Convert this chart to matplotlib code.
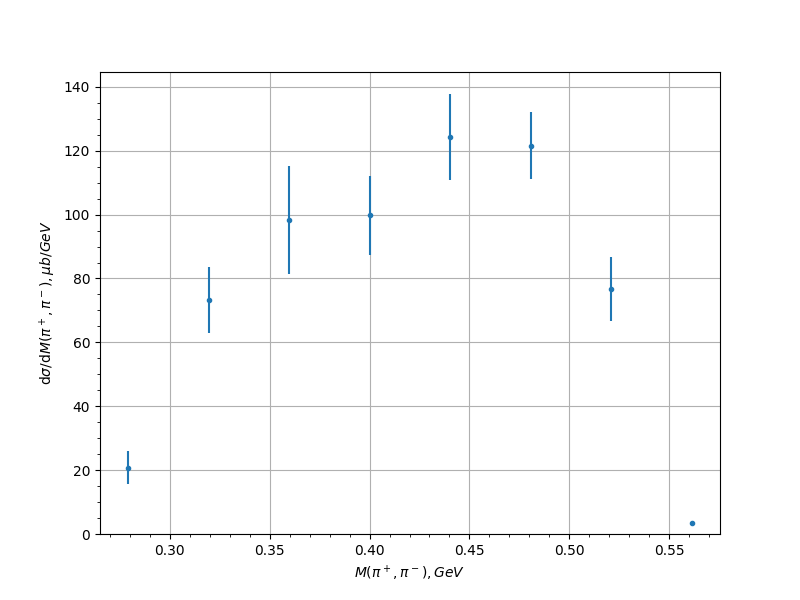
import numpy as np
import matplotlib
matplotlib.use('Agg')
import matplotlib.pyplot as plt

# mass bin centres, GeV
mass = [0.2792, 0.3195, 0.3598, 0.4001, 0.4404, 0.4807, 0.5210, 0.5613]
# cross section, mub/GeV
xsec = [20.7, 73.3, 98.3, 99.8, 124.3, 121.5, 76.7, 3.4]
xsec_err = [5.2, 10.3, 16.8, 12.4, 13.6, 10.5, 10.0, 0.5]

fig, ax = plt.subplots(figsize=(8, 6), dpi=100)
ax.errorbar(mass, xsec, yerr=xsec_err, fmt='.')
ax.set_ylim(bottom=0)
ax.minorticks_on()
ax.grid(True, which='major')
ax.set_xlabel(r'$M(\pi^+,\pi^-), GeV$')
ax.set_ylabel(r'd$\sigma$/d$M(\pi^+,\pi^-), \mu b/GeV$')

plt.savefig('out.png', dpi=100)
